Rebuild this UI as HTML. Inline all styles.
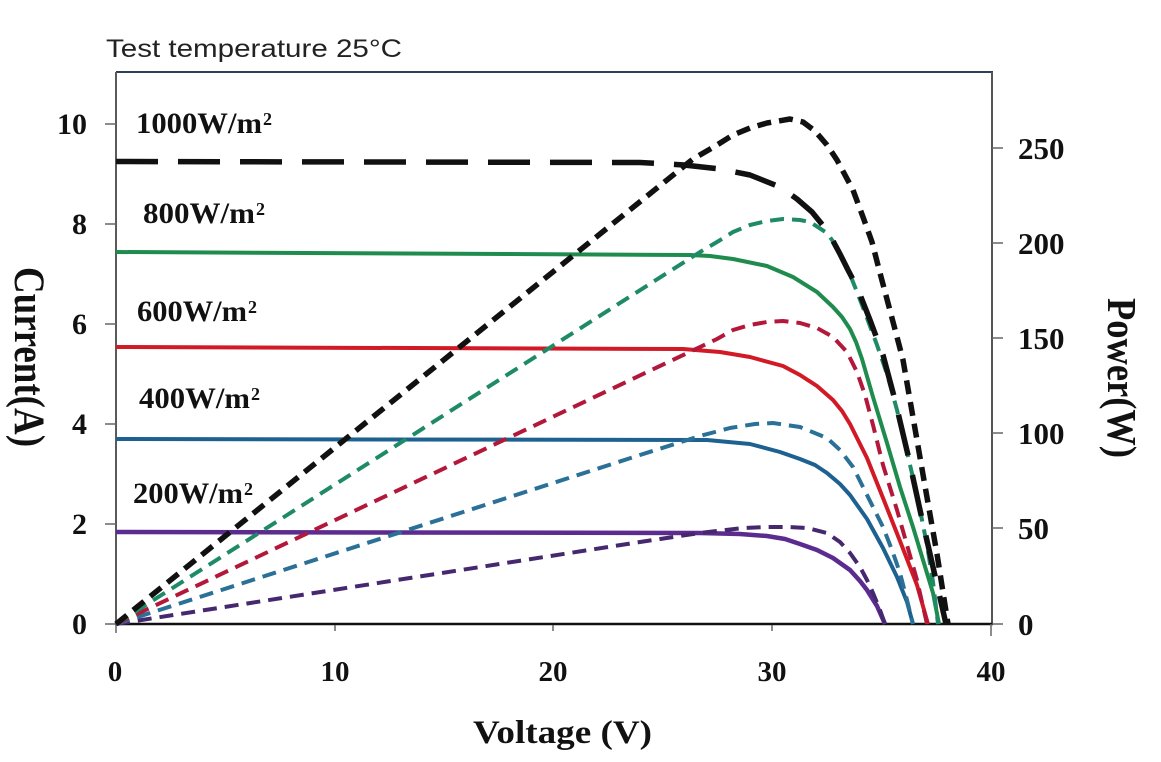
<!DOCTYPE html>
<html>
<head>
<meta charset="utf-8">
<style>
html,body{margin:0;padding:0;background:#fff;}
svg{display:block;}
.tk{font-family:"Liberation Serif",serif;font-weight:bold;fill:#111;}
</style>
</head>
<body>
<svg width="1161" height="762" viewBox="0 0 1161 762" xmlns="http://www.w3.org/2000/svg">
<rect width="1161" height="762" fill="#fff"/>

<!-- title -->
<text x="106" y="57" font-family="Liberation Sans, sans-serif" font-size="25" fill="#222" textLength="296" lengthAdjust="spacingAndGlyphs">Test  temperature 25°C</text>

<!-- frame -->
<line x1="116" y1="72" x2="993" y2="72" stroke="#2e3f5c" stroke-width="2"/>
<line x1="116" y1="72" x2="116" y2="625" stroke="#5a5a5a" stroke-width="2"/>
<line x1="992" y1="72" x2="992" y2="625" stroke="#555" stroke-width="2"/>
<line x1="115" y1="624" x2="993" y2="624" stroke="#111" stroke-width="2.5"/>

<!-- left ticks -->
<g stroke="#666" stroke-width="1.5">
<line x1="105" y1="124" x2="116" y2="124"/>
<line x1="105" y1="224" x2="116" y2="224"/>
<line x1="105" y1="324" x2="116" y2="324"/>
<line x1="105" y1="424" x2="116" y2="424"/>
<line x1="105" y1="524" x2="116" y2="524"/>
<line x1="105" y1="624" x2="116" y2="624"/>
<!-- right ticks -->
<line x1="992" y1="148" x2="1003" y2="148"/>
<line x1="992" y1="243" x2="1003" y2="243"/>
<line x1="992" y1="338" x2="1003" y2="338"/>
<line x1="992" y1="433" x2="1003" y2="433"/>
<line x1="992" y1="528" x2="1003" y2="528"/>
<line x1="992" y1="624" x2="1003" y2="624"/>
<!-- bottom ticks -->
<line x1="116" y1="624" x2="116" y2="633"/>
<line x1="335" y1="625" x2="335" y2="631"/>
<line x1="553" y1="625" x2="553" y2="631"/>
<line x1="772" y1="625" x2="772" y2="631"/>
<line x1="991" y1="624" x2="991" y2="636"/>
</g>

<!-- left tick labels -->
<g class="tk" font-size="30" text-anchor="end">
<text x="87" y="134">10</text>
<text x="87" y="234">8</text>
<text x="87" y="334">6</text>
<text x="87" y="434">4</text>
<text x="87" y="534">2</text>
<text x="87" y="634">0</text>
</g>
<!-- right tick labels -->
<g class="tk" font-size="31">
<text x="1018" y="159">250</text>
<text x="1018" y="254">200</text>
<text x="1018" y="349">150</text>
<text x="1018" y="444">100</text>
<text x="1018" y="539">50</text>
<text x="1018" y="635">0</text>
</g>
<!-- bottom tick labels -->
<g class="tk" font-size="29" text-anchor="middle">
<text x="115" y="681">0</text>
<text x="335" y="681">10</text>
<text x="553" y="681">20</text>
<text x="772" y="681">30</text>
<text x="991" y="681">40</text>
</g>

<!-- axis titles -->
<text class="tk" x="473" y="743" font-size="33" textLength="179" lengthAdjust="spacingAndGlyphs">Voltage (V)</text>
<text class="tk" transform="translate(15,267) rotate(90)" x="0" y="0" font-size="43" textLength="180" lengthAdjust="spacingAndGlyphs">Current(A)</text>
<text class="tk" transform="translate(1108,298) rotate(90)" x="0" y="0" font-size="41" textLength="160" lengthAdjust="spacingAndGlyphs">Power(W)</text>

<!-- irradiance labels -->
<g class="tk">
<text x="136" y="133" font-size="30" textLength="126" lengthAdjust="spacingAndGlyphs">1000W/m</text>
<text x="263" y="125" font-size="18">2</text>
<text x="143" y="223" font-size="30" textLength="112" lengthAdjust="spacingAndGlyphs">800W/m</text>
<text x="256" y="215" font-size="18">2</text>
<text x="137" y="321" font-size="30" textLength="110" lengthAdjust="spacingAndGlyphs">600W/m</text>
<text x="248" y="313" font-size="18">2</text>
<text x="139" y="408" font-size="30" textLength="111" lengthAdjust="spacingAndGlyphs">400W/m</text>
<text x="251" y="400" font-size="18">2</text>
<text x="133" y="503" font-size="30" textLength="110" lengthAdjust="spacingAndGlyphs">200W/m</text>
<text x="244" y="495" font-size="18">2</text>
</g>

<!-- I-V solid curves -->
<g fill="none" stroke-linejoin="round" stroke-linecap="butt">
<path d="M116,252 L690,255 L710,256 L733,259 L767,266 L793,277 L817,292 L833,307 L842,317 L850,329 L856,342 L862,359 L873,397 L887,443 L900,487 L913,527 L923,560 L933,593 L939,624" stroke="#1f8c4e" stroke-width="4"/>
<path d="M116,347 L683,349 L720,352 L750,357 L783,366 L800,375 L817,386 L833,400 L842,411 L850,424 L858,440 L867,458 L883,498 L900,541 L917,585 L928,624" stroke="#d11a26" stroke-width="4"/>
<path d="M116,439 L707,440 L750,444 L780,452 L800,459 L815,465 L827,473 L840,484 L850,495 L867,519 L883,548 L897,577 L907,602 L913,624" stroke="#1d6190" stroke-width="4"/>
<path d="M116,532 L700,533 L740,534 L767,536 L785,539 L800,544 L817,550 L833,558 L850,570 L860,581 L867,590 L877,606 L885,624" stroke="#5c2b8f" stroke-width="4.5"/>
</g>

<!-- P-V dashed curves -->
<g fill="none" stroke-linejoin="round" stroke-dasharray="14 8">
<path d="M116,624 L640,542 L700,533 L743,528 L767,527 L787,527 L807,528 L827,533 L840,542 L850,553 L860,567 L867,580 L873,593 L880,610 L885,624" stroke="#45286e" stroke-width="4"/>
<path d="M116,624 L640,455 L700,436 L730,428 L755,424 L773,423 L800,427 L827,438 L840,450 L853,467 L863,487 L873,507 L883,527 L892,550 L900,573 L907,600 L913,624" stroke="#2a7097" stroke-width="4"/>
<path d="M116,624 L700,347 L717,339 L733,330 L750,325 L767,322 L783,321 L800,323 L817,328 L833,337 L847,352 L857,372 L865,395 L873,425 L883,465 L897,510 L907,545 L917,580 L927,624" stroke="#b3183a" stroke-width="4"/>
<path d="M116,624 L700,252 L717,242 L733,232 L750,225 L767,221 L783,219 L800,220 L810,222 L827,233 L837,247 L847,267 L857,292 L867,318 L877,345 L887,374 L897,410 L907,452 L917,495 L927,545 L933,582 L938,624" stroke="#1f8a68" stroke-width="4"/>
<path d="M116,624 L693,159 L717,145 L733,135 L750,128 L767,123 L790,119 L803,122 L815,131 L827,145 L837,160 L853,190 L863,217 L872,242 L880,273 L888,303 L897,337 L903,360 L914,423 L925,486 L937,554 L948,624" stroke="#111" stroke-width="5.5"/>
</g>

<!-- 1000 W/m2 I-V long dashed -->
<path d="M116,161.5 L640,162.5 L684,165 L720,169 L750,175 L780,187 L797,199 L812,212 L825,228 L833,241 L840,254 L848,270 L857,287 L870,320 L883,355 L895,400 L908,455 L920,510 L933,567 L946,624" fill="none" stroke="#111" stroke-width="5.5" stroke-dasharray="42 20" stroke-linejoin="round"/>

</svg>
</body>
</html>
